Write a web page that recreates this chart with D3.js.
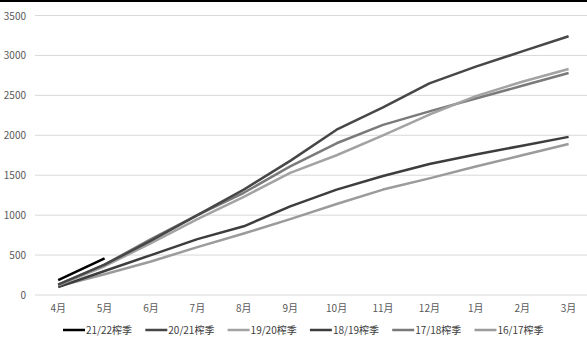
<!DOCTYPE html>
<html>
<head>
<meta charset="utf-8">
<script src="https://cdn.jsdelivr.net/npm/d3@7"></script>
<style>
  body { margin: 0; background: #fff; }
  text { font-family: "Noto Sans CJK SC", "Noto Sans", sans-serif; }
</style>
</head>
<body>
<div id="chart"></div>
<script>
const months = ["4月", "5月", "6月", "7月", "8月", "9月", "10月", "11月", "12月", "1月", "2月", "3月"];
const yTicks = [0, 500, 1000, 1500, 2000, 2500, 3000, 3500];

const s2122 = [185, 460];
const s2021 = [130, 380, 680, 1000, 1320, 1680, 2070, 2350, 2650, 2860, 3050, 3240];
const s1920 = [120, 360, 650, 950, 1230, 1530, 1750, 2000, 2260, 2490, 2670, 2830];
const s1819 = [100, 300, 500, 700, 860, 1110, 1320, 1490, 1640, 1760, 1870, 1980];
const s1718 = [130, 380, 700, 1000, 1280, 1610, 1900, 2130, 2300, 2460, 2620, 2780];
const s1617 = [110, 260, 420, 600, 770, 950, 1140, 1320, 1460, 1610, 1750, 1890];

const seriesNames = ["21/22榨季", "20/21榨季", "19/20榨季", "18/19榨季", "17/18榨季", "16/17榨季"];
const seriesValues = [s2122, s2021, s1920, s1819, s1718, s1617];
const seriesColors = ["#000000", "#474747", "#a3a3a3", "#3d3d3d", "#7a7a7a", "#9b9b9b"];

const W = 587, H = 352;
const svg = d3.select("#chart").append("svg")
    .attr("width", W)
    .attr("height", H);

// top border
svg.append("rect").attr("x", 0).attr("y", 0).attr("width", W).attr("height", 2).attr("fill", "#000");

const x = d3.scalePoint()
    .domain(months)
    .range([58.2, 568.6]);

const y = d3.scaleLinear()
    .domain([0, 3500])
    .range([295, 15.5]);

// gridlines
svg.append("g")
    .selectAll("line")
    .data(yTicks)
    .enter()
    .append("line")
    .attr("x1", 35)
    .attr("x2", W)
    .attr("y1", d => y(d))
    .attr("y2", d => y(d))
    .attr("stroke", "#d9d9d9")
    .attr("stroke-width", 1);

// y labels
svg.append("g")
    .selectAll("text")
    .data(yTicks)
    .enter()
    .append("text")
    .attr("x", 26)
    .attr("y", d => y(d) + 4)
    .attr("text-anchor", "end")
    .style("font-size", "10px")
    .attr("fill", "#595959")
    .text(d => d);

// x labels
svg.append("g")
    .selectAll("text")
    .data(months)
    .enter()
    .append("text")
    .attr("x", d => x(d))
    .attr("y", 312)
    .attr("text-anchor", "middle")
    .style("font-size", "10px")
    .attr("fill", "#595959")
    .text(d => d);

const line = d3.line()
    .x((d, i) => x(months[i]))
    .y(d => y(d));

// draw back to front so the current season sits on top
for (let k = seriesValues.length - 1; k >= 0; k--) {
    svg.append("path")
        .attr("d", line(seriesValues[k]))
        .attr("fill", "none")
        .attr("stroke", seriesColors[k])
        .attr("stroke-width", 2.5)
        .attr("stroke-linejoin", "round");
}

// legend
const legend = svg.append("g")
    .selectAll("g")
    .data(seriesNames)
    .enter()
    .append("g")
    .attr("transform", (d, i) => `translate(${63 + i * 82.3}, 330)`);

legend.append("line")
    .attr("x1", 0)
    .attr("x2", 22)
    .attr("y1", 0)
    .attr("y2", 0)
    .attr("stroke", (d, i) => seriesColors[i])
    .attr("stroke-width", 2.5);

legend.append("text")
    .attr("x", 23)
    .attr("y", 4)
    .style("font-size", "10px")
    .attr("fill", "#404040")
    .text(d => d);
</script>
</body>
</html>
